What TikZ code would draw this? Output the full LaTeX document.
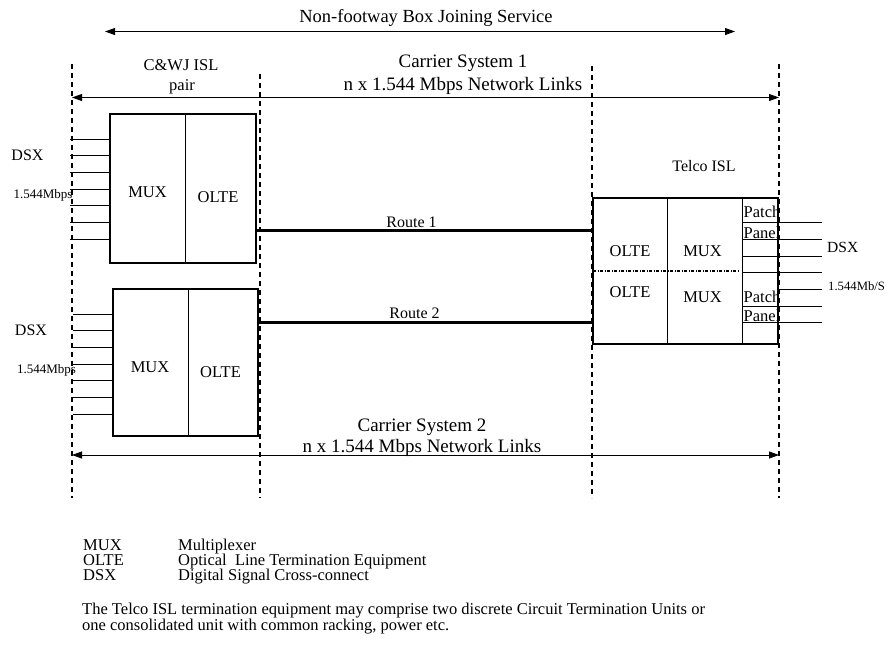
\documentclass[tikz,border=0pt]{standalone}
\usepackage{fontspec}
\setmainfont{Liberation Serif}
\usetikzlibrary{arrows.meta}
\newcommand{\fsz}[1]{\fontsize{#1}{#1}\selectfont}
\begin{document}
\begin{tikzpicture}[x=1pt,y=-1pt,
  vdash/.style={line width=1.4pt,dash pattern=on 5pt off 4pt},
  span/.style={line width=0.8pt,{Triangle[length=10pt,width=7pt]}-{Triangle[length=10pt,width=7pt]}},
  eqbox/.style={draw,line width=2pt,rectangle,inner sep=0pt},
  route/.style={line width=2.6pt},
  thin/.style={line width=0.9pt},
  lbl/.style={anchor=base,inner sep=0pt},
  lblw/.style={anchor=base west,inner sep=0pt},
  title/.style={lbl,font=\fsz{18.5}},
  carrier/.style={lbl,font=\fsz{19}},
  boxlbl/.style={lbl,font=\fsz{16.5}},
  mid/.style={lbl,font=\fsz{16}},
  rate/.style={lbl,font=\fsz{13}},
  patch/.style={lblw,font=\fsz{16.5}},
  legend/.style={lblw,font=\fsz{16.5}}
]
\useasboundingbox (0,0) rectangle (891,649);

% dashed vertical boundaries
\coordinate (d1t) at (72,64);   \coordinate (d1b) at (72,498);
\coordinate (d2t) at (260,74);  \coordinate (d2b) at (260,498);
\coordinate (d3t) at (592,66);  \coordinate (d3b) at (592,498);
\coordinate (d4t) at (779,64);  \coordinate (d4b) at (779,498);
\draw[vdash] (d1t) -- (d1b);
\draw[vdash] (d2t) -- (d2b);
\draw[vdash] (d3t) -- (d3b);
\draw[vdash] (d4t) -- (d4b);

% top span
\node[title] (nfbj) at (426,22.5) {Non-footway Box Joining Service};
\coordinate (nfl) at (105,31.5); \coordinate (nfr) at (735,31.5);
\draw[span] (nfl) -- (nfr);

% carrier system 1
\node[carrier] (cs1) at (463,67) {Carrier System 1};
\node[carrier] (cs1b) at (463,90) {n x 1.544 Mbps Network Links};
\node[boxlbl] (cwj) at (181,70) {C\&WJ ISL};
\node[boxlbl] (pair) at (182,90) {pair};
\coordinate (c1l) at (72,97.5); \coordinate (c1r) at (779,97.5);
\draw[span] (c1l) -- (c1r);

% carrier system 2
\node[carrier] (cs2) at (422,431) {Carrier System 2};
\node[carrier] (cs2b) at (422,452) {n x 1.544 Mbps Network Links};
\coordinate (c2l) at (72,455) ; \coordinate (c2r) at (779,455);
\draw[span] (c2l) -- (c2r);

% box 1
\node[eqbox,minimum width=146pt,minimum height=149pt] (box1) at (183,188.5) {};
\coordinate (b1dt) at (185,114); \coordinate (b1db) at (185,263);
\draw[thin] (b1dt) -- (b1db);
\node[boxlbl] (mux1) at (147.5,197) {MUX};
\node[boxlbl] (olte1) at (218,202) {OLTE};
\foreach \yy in {139,155.7,172.3,189,205.7,222.3,239}{
  \coordinate (i1) at (70,\yy);
  \draw[thin] (i1) -- (box1.west |- i1);
}
\node[mid] (dsx1) at (27.5,160) {DSX};
\node[rate] (rate1) at (43,198) {1.544Mbps};

% box 2
\node[eqbox,minimum width=145pt,minimum height=147pt] (box2) at (185.5,362.5) {};
\coordinate (b2dt) at (188,289); \coordinate (b2db) at (188,436);
\draw[thin] (b2dt) -- (b2db);
\node[boxlbl] (mux2) at (150,372) {MUX};
\node[boxlbl] (olte2) at (220.5,377) {OLTE};
\foreach \yy in {314,330.7,347.3,364,380.7,397.3,414}{
  \coordinate (i2) at (73,\yy);
  \draw[thin] (i2) -- (box2.west |- i2);
}
\node[mid] (dsx2) at (31,335) {DSX};
\node[rate] (rate2) at (46.5,373) {1.544Mbps};

% telco box
\node[eqbox,minimum width=185pt,minimum height=146pt] (telco) at (685.5,271) {};
\coordinate (t1t) at (667,198); \coordinate (t1b) at (667,344);
\coordinate (t2t) at (742,198); \coordinate (t2b) at (742,344);
\draw[thin] (t1t) -- (t1b);
\draw[thin] (t2t) -- (t2b);
\coordinate (ddl) at (593,271); \coordinate (ddr) at (740,271);
\draw[line width=1.2pt,dash pattern=on 3pt off 1.5pt on 1pt off 1.5pt] (ddl) -- (ddr);
\node[boxlbl] (olte3) at (630,256) {OLTE};
\node[boxlbl] (mux3) at (702.5,256) {MUX};
\node[boxlbl] (olte4) at (630,297) {OLTE};
\node[boxlbl] (mux4) at (702.5,302) {MUX};
\node[mid] (telcoisl) at (704,171) {Telco ISL};
\foreach \yy in {222,239,256,272,306,322}{
  \coordinate (pl) at (742,\yy);
  \draw[thin] (pl) -- (telco.east |- pl);
}
\foreach \yy in {222,239,256,272,289,306,322}{
  \coordinate (ol) at (822,\yy);
  \draw[thin] (telco.east |- ol) -- (ol);
}
\begin{scope}
  \clip (742,199) rectangle (777,343);
  \node[patch] (patch1) at (743.5,217.5) {Patch};
  \node[patch] (panel1) at (743.5,238) {Panel};
  \node[patch] (patch2) at (743.5,302.5) {Patch};
  \node[patch] (panel2) at (743.5,321) {Panel};
\end{scope}
\node[lblw,font=\fsz{15.5}] (dsx3) at (827,252) {DSX};
\node[lblw,font=\fsz{12.7}] (rate3) at (828,290) {1.544Mb/S};

% routes
\coordinate (r1) at (0,230.5); \coordinate (r2) at (0,322.5);
\draw[route] (box1.east |- r1) -- (telco.west |- r1);
\draw[route] (box2.east |- r2) -- (telco.west |- r2);
\node[mid] (route1) at (411.5,227) {Route 1};
\node[mid] (route2) at (414.5,318) {Route 2};

% legend
\node[legend] (lmux) at (83,550.5) {MUX};
\node[legend] (lolte) at (83,565.5) {OLTE};
\node[legend] (ldsx) at (83,580.5) {DSX};
\node[legend] (dmux) at (178,550.5) {Multiplexer};
\node[legend] (dolte) at (178,565.5) {Optical\ \ Line Termination Equipment};
\node[legend] (ddsx) at (178,580.5) {Digital Signal Cross-connect};
\node[legend] (para1) at (82,614.5) {The Telco ISL termination equipment may comprise two discrete Circuit Termination Units or};
\node[legend] (para2) at (82,630.5) {one consolidated unit with common racking, power etc.};
\end{tikzpicture}
\end{document}
